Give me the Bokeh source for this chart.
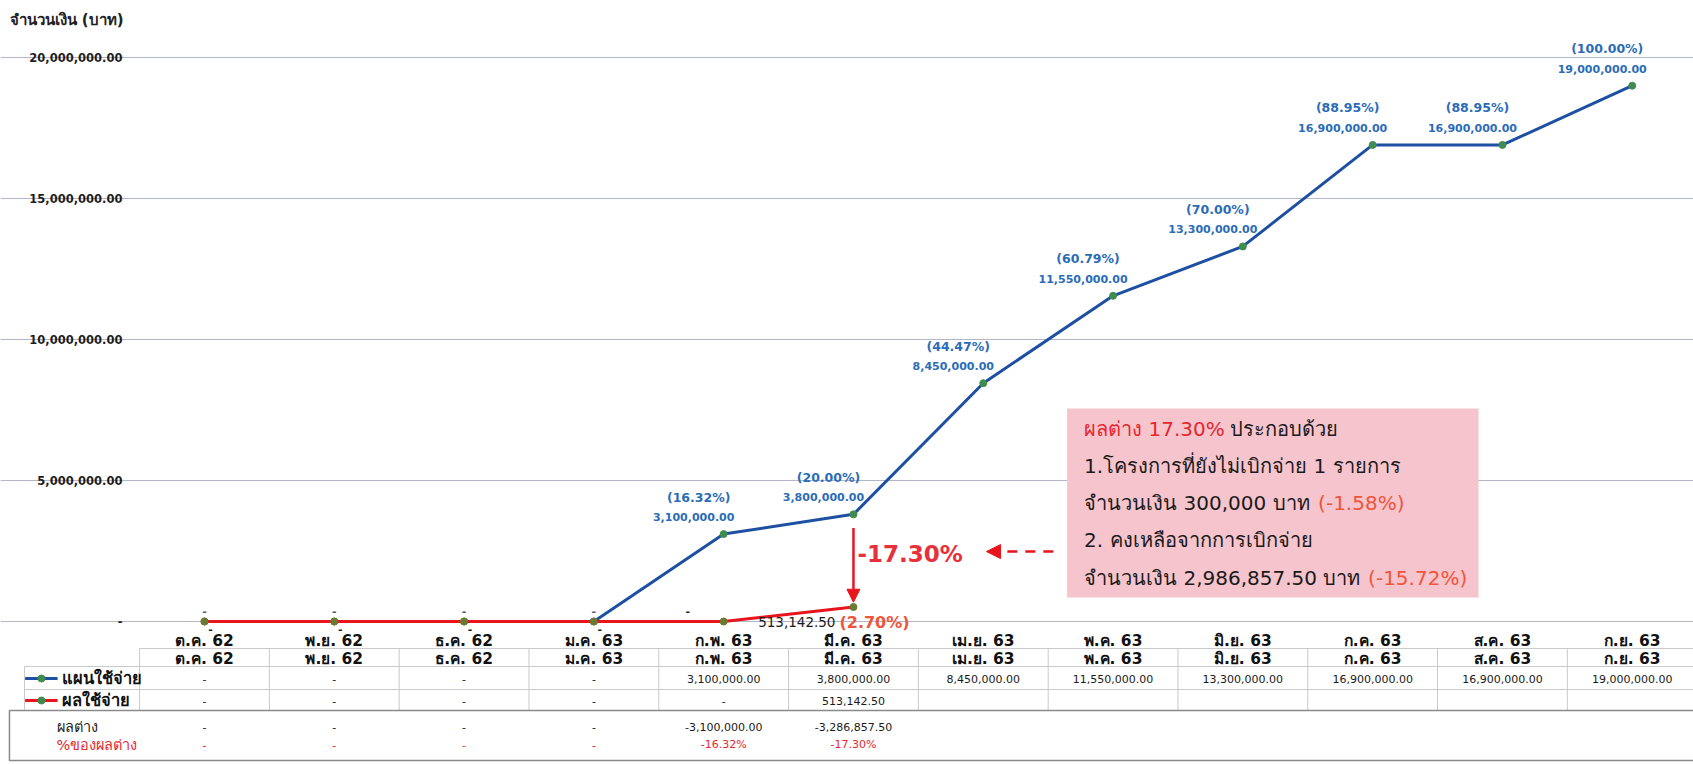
from bokeh.plotting import figure
from bokeh.models import (Range1d, FixedTicker, ColumnDataSource, Arrow, NormalHead,
                          BoxAnnotation, Label)
from bokeh.embed import file_html
from bokeh.resources import INLINE
from bokeh.core.properties import value

# ---------------- data ----------------
months = ["ต.ค. 62", "พ.ย. 62", "ธ.ค. 62", "ม.ค. 63", "ก.พ. 63", "มี.ค. 63",
          "เม.ย. 63", "พ.ค. 63", "มิ.ย. 63", "ก.ค. 63", "ส.ค. 63", "ก.ย. 63"]
plan = [0, 0, 0, 0, 3100000, 3800000, 8450000, 11550000, 13300000, 16900000, 16900000, 19000000]
actual = [0, 0, 0, 0, 0, 513142.50]
budget_total = 19000000
y_ticks = [0, 5000000, 10000000, 15000000, 20000000]
y_tick_labels = ["-", "5,000,000.00", "10,000,000.00", "15,000,000.00", "20,000,000.00"]
y_title = "จำนวนเงิน (บาท)"
legend_plan = "แผนใช้จ่าย"
legend_actual = "ผลใช้จ่าย"
diff_title = "ผลต่าง"
diff_pct_title = "%ของผลต่าง"
note_lines = [
    [("ผลต่าง 17.30%", "red"), ("ประกอบด้วย", "black")],
    [("1.โครงการที่ยังไม่เบิกจ่าย 1 รายการ", "black")],
    [("จำนวนเงิน 300,000 บาท", "black"), ("(-1.58%)", "orange")],
    [("2. คงเหลือจากการเบิกจ่าย", "black")],
    [("จำนวนเงิน 2,986,857.50 บาท", "black"), ("(-15.72%)", "orange")],
]

# ---------------- style ----------------
FONT = "DejaVu Sans"
BLUE_LINE = "#1d4fa2"
BLUE_TXT = "#2b6cb8"
RED_LINE = "#e8151d"
RED_TXT = "#e8262d"
ORANGE_TXT = "#f0553a"
GREEN_DOT = "#3f8c4f"
OLIVE_DOT = "#6b7a32"
GRID = "#b3b5ca"
PINK = "#f5c4cc"
W, H = 1693, 764
X0, XMAX = -1.0716, 11.972          # horizontal data range (category units)
Y0, Y1 = -5070900, 22021300          # chart value range

def fmt(v):
    return "-" if v == 0 else f"{v:,.2f}"

xs = [i + 0.5 for i in range(len(months))]
xa = xs[:len(actual)]

p = figure(frame_width=W, frame_height=H, min_border=0,
           x_range=Range1d(X0, XMAX), y_range=Range1d(Y0, Y1),
           x_axis_location=None, y_axis_location=None,
           output_backend="svg", toolbar_location=None)
p.extra_y_ranges = {"tbl": Range1d(116, -648)}   # table rows, pixel-like units, downwards
p.outline_line_color = None
p.xgrid.visible = False
p.ygrid.ticker = FixedTicker(ticks=y_ticks)
p.ygrid.bounds = (0, XMAX)
p.ygrid.grid_line_color = GRID
p.ygrid.grid_line_width = 1

# axis title and value tick labels
p.text([X0 + 0.07], [21330000], text=[y_title], text_align="left", text_baseline="middle",
       text_color="#222222", text_font=value(FONT), text_font_size="15px", text_font_style="bold")
p.text([-0.132] * len(y_ticks), y_ticks, text=y_tick_labels, text_align="right",
       text_baseline="middle", text_color="#1e1e1e", text_font=value(FONT),
       text_font_size="11.5px", text_font_style="bold")

# pink note box
note_left, note_right, note_top, note_bottom = 7.146, 10.316, 7553000, 851000
p.add_layout(BoxAnnotation(left=note_left, right=note_right, top=note_top, bottom=note_bottom,
                           fill_color=PINK, fill_alpha=1.0, line_color=None, level="underlay"))

# series
p.line(xs, plan, line_color=BLUE_LINE, line_width=3)
p.scatter(xs, plan, size=7, fill_color=GREEN_DOT, line_color=GREEN_DOT)
p.line(xa, actual, line_color=RED_LINE, line_width=3)
p.scatter(xa, actual, size=7, fill_color=OLIVE_DOT, line_color=OLIVE_DOT)

# plan labels
nz = [i for i, v in enumerate(plan) if v != 0]
src_plan = ColumnDataSource(dict(
    x=[xs[i] for i in nz], y=[plan[i] for i in nz],
    val=[fmt(plan[i]) for i in nz],
    pct=[f"({plan[i] / budget_total * 100:.2f}%)" for i in nz]))
p.text("x", "y", text="val", source=src_plan, x_offset=-30, y_offset=-17,
       text_align="center", text_baseline="middle", text_color=BLUE_TXT,
       text_font=value(FONT), text_font_size="11px", text_font_style="bold")
p.text("x", "y", text="pct", source=src_plan, x_offset=-25, y_offset=-37,
       text_align="center", text_baseline="middle", text_color=BLUE_TXT,
       text_font=value(FONT), text_font_size="12.5px", text_font_style="bold")
z = [i for i, v in enumerate(plan) if v == 0]
src_plan0 = ColumnDataSource(dict(x=[xs[i] for i in z], y=[plan[i] for i in z], t=["-"] * len(z)))
p.text("x", "y", text="t", source=src_plan0, y_offset=-11, text_align="center",
       text_baseline="middle", text_color="#4d5872", text_font=value(FONT),
       text_font_size="11px", text_font_style="bold")

# actual labels
a0 = [i for i, v in enumerate(actual) if v == 0 and plan[i] == 0]
a0b = [i for i, v in enumerate(actual) if v == 0 and plan[i] != 0]
a1 = [i for i, v in enumerate(actual) if v != 0]
src_a0 = ColumnDataSource(dict(x=[xa[i] for i in a0], y=[actual[i] for i in a0], t=["-"] * len(a0)))
p.text("x", "y", text="t", source=src_a0, x_offset=6, y_offset=7, text_align="center",
       text_baseline="middle", text_color="#222222", text_font=value(FONT),
       text_font_size="11px", text_font_style="bold")
src_a0b = ColumnDataSource(dict(x=[xa[i] for i in a0b], y=[actual[i] for i in a0b], t=["-"] * len(a0b)))
p.text("x", "y", text="t", source=src_a0b, x_offset=-36, y_offset=-11, text_align="center",
       text_baseline="middle", text_color="#222222", text_font=value(FONT),
       text_font_size="11px", text_font_style="bold")
src_a1 = ColumnDataSource(dict(
    x=[xa[i] for i in a1], y=[actual[i] for i in a1],
    val=[fmt(actual[i]) for i in a1],
    pct=[f"({actual[i] / budget_total * 100:.2f}%)" for i in a1]))
p.text("x", "y", text="val", source=src_a1, x_offset=-18, y_offset=15, text_align="right",
       text_baseline="middle", text_color="#1a1a1a", text_font=value(FONT),
       text_font_size="13.5px")
p.text("x", "y", text="pct", source=src_a1, x_offset=-14, y_offset=15, text_align="left",
       text_baseline="middle", text_color=ORANGE_TXT, text_font=value(FONT),
       text_font_size="16px", text_font_style="bold")

# gap arrow and note arrow
last = len(actual) - 1
gap_pct = (actual[last] - plan[last]) / budget_total * 100
p.add_layout(Arrow(end=NormalHead(size=13, fill_color=RED_LINE, line_color=RED_LINE),
                   x_start=xa[last], y_start=plan[last] - 480000,
                   x_end=xa[last], y_end=actual[last] + 170000,
                   line_color=RED_LINE, line_width=2.5))
p.add_layout(Label(x=xa[last], y=(plan[last] + actual[last]) / 2 + 250000, x_offset=4,
                   text=f"{gap_pct:.2f}%", text_color="#e8303a", text_font=FONT,
                   text_font_size="23px", text_font_style="bold", text_baseline="middle"))
p.add_layout(Arrow(end=NormalHead(size=14, fill_color=RED_LINE, line_color=RED_LINE),
                   x_start=7.04, y_start=2480000, x_end=6.525, y_end=2480000,
                   line_color=RED_LINE, line_width=2.5, line_dash="10 8"))

# note text
part_offsets = {(0, 1): 146, (2, 1): 234, (4, 1): 284}
colors = {"red": RED_TXT, "black": "#1a1a1a", "orange": ORANGE_TXT}
for li, parts in enumerate(note_lines):
    ly = note_top - (720000 + 1320000 * li)
    for pi, (txt, col) in enumerate(parts):
        off = 17 + part_offsets.get((li, pi), 0)
        p.add_layout(Label(x=note_left, y=ly, x_offset=off, text=txt, text_color=colors[col],
                           text_font=FONT, text_font_size="20px", text_baseline="middle"))

# ---------------- data table under the chart ----------------
LEG_L = -0.8867
ROW_TOP, ROW2_B, ROW3_B, ROW4_B, BOX_B = 0, 18, 41, 62, 114
hx = [[0, XMAX], [LEG_L, XMAX], [LEG_L, XMAX]]
hy = [[ROW_TOP, ROW_TOP], [ROW2_B, ROW2_B], [ROW3_B, ROW3_B]]
vx = [[k, k] for k in range(12)] + [[LEG_L, LEG_L]]
vy = [[ROW_TOP, ROW4_B] for k in range(12)] + [[ROW2_B, ROW4_B]]
p.multi_line(hx + vx, hy + vy, line_color="#c9c9cf", line_width=1, y_range_name="tbl")
p.quad(left=[X0 + 0.069], right=[XMAX + 1], top=[ROW4_B], bottom=[BOX_B - 2],
       fill_alpha=0, line_color="#8a8a8a", line_width=1.5, y_range_name="tbl")

def row(texts, y, size, color, style="normal"):
    src = ColumnDataSource(dict(x=xs[:len(texts)], t=texts))
    p.text("x", y, text="t", source=src, text_align="center", text_baseline="middle",
           text_color=color, text_font=value(FONT), text_font_size=size,
           text_font_style=style, y_range_name="tbl")

diff = [actual[i] - plan[i] for i in range(len(actual))]
row(months, -8, "15.5px", "#111111", "bold")
row(months, 10, "15.5px", "#111111", "bold")
row([fmt(v) for v in plan], 30, "11px", "#1a1a1a")
row([fmt(v) for v in actual], 52, "11px", "#1a1a1a")
row([fmt(v) for v in diff], 78, "11px", "#1a1a1a")
row(["-" if v == 0 else f"{v / budget_total * 100:.2f}%" for v in diff], 96, "11px", RED_TXT)

# legend samples
for yy, col, dot, name in [(30, BLUE_LINE, GREEN_DOT, legend_plan), (52, RED_LINE, GREEN_DOT, legend_actual)]:
    p.line([LEG_L + 0.005, -0.632], [yy, yy], line_color=col, line_width=3, y_range_name="tbl")
    p.scatter([-0.756], [yy], size=7, fill_color=dot, line_color=dot, y_range_name="tbl")
    p.text([-0.600], [yy], text=[name], text_align="left", text_baseline="middle",
           text_color="#111111", text_font=value(FONT), text_font_size="16.5px",
           text_font_style="bold", y_range_name="tbl")
p.text([-0.640], [78], text=[diff_title], text_align="left", text_baseline="middle",
       text_color="#222222", text_font=value(FONT), text_font_size="14.5px", y_range_name="tbl")
p.text([-0.640], [96], text=[diff_pct_title], text_align="left", text_baseline="middle",
       text_color=RED_TXT, text_font=value(FONT), text_font_size="14.5px", y_range_name="tbl")

open("out.html", "w").write(file_html(p, INLINE))
